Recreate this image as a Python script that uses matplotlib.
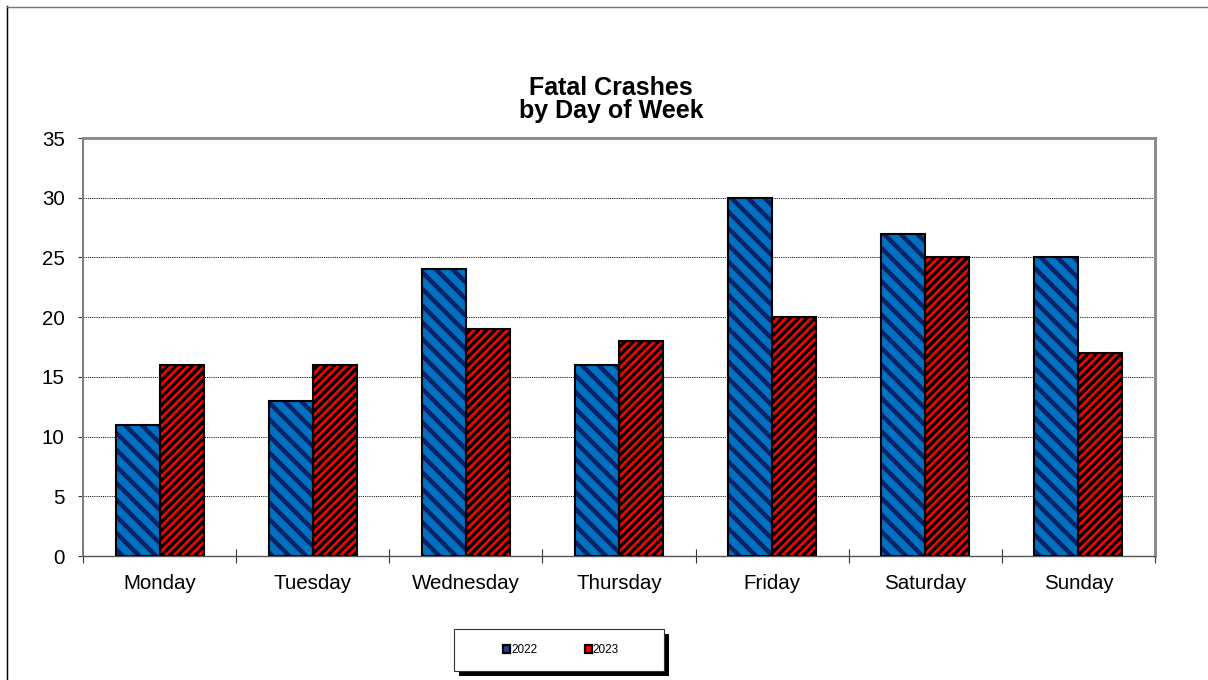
import numpy as np
import matplotlib
matplotlib.use("Agg")
from matplotlib import pyplot as plt
from matplotlib.patches import Rectangle
from matplotlib.lines import Line2D

days = ["Monday", "Tuesday", "Wednesday", "Thursday", "Friday", "Saturday", "Sunday"]
crashes_2022 = [11, 13, 24, 16, 30, 27, 25]
crashes_2023 = [16, 16, 19, 18, 20, 25, 17]
years = ["2022", "2023"]
y_ticks = [0, 5, 10, 15, 20, 25, 30, 35]

plt.rcParams['font.family'] = ['Liberation Sans', 'DejaVu Sans']

W, H = 1208, 680
DPI = 100
fig = plt.figure(figsize=(W / DPI, H / DPI), dpi=DPI)
fig.patch.set_facecolor('white')

# plot area in pixels
x0, x1, ytop, ybot = 83, 1155, 138, 556
ax = fig.add_axes([x0 / W, 1 - ybot / H, (x1 - x0) / W, (ybot - ytop) / H])

x = np.arange(len(days))
w = 0.2875
blue = '#0070C0'
navy = '#0B2366'
red = '#FF0000'

plt.rcParams['hatch.linewidth'] = 3.2
b1 = ax.bar(x - w / 2, crashes_2022, w, color=blue, edgecolor=navy, linewidth=0,
            hatch='\\\\', zorder=3)
plt.rcParams['hatch.linewidth'] = 2.4
b2 = ax.bar(x + w / 2, crashes_2023, w, color=red, edgecolor='black', linewidth=0,
            hatch='////', zorder=3)
for bars, lw in ((b1, 3.2), (b2, 2.4)):
    for p in bars:
        if hasattr(p, 'set_hatch_linewidth'):
            p.set_hatch_linewidth(lw)
# outlines
ax.bar(x - w / 2, crashes_2022, w, fill=False, edgecolor='black', linewidth=1.5, zorder=4)
ax.bar(x + w / 2, crashes_2023, w, fill=False, edgecolor='black', linewidth=1.5, zorder=4)

ax.set_xlim(-0.5, len(days) - 0.5)
ax.set_ylim(0, 35)
ax.set_yticks(y_ticks)
ax.set_yticklabels([str(t) for t in y_ticks], fontsize=14.8)
ax.set_xticks(x)
ax.set_xticklabels(days, fontsize=14.8)
ax.set_xticks(np.arange(-0.5, len(days), 1), minor=True)
ax.tick_params(axis='x', which='major', length=0, pad=12.8)
ax.tick_params(axis='x', which='minor', direction='inout', length=9.6, width=0.8, color='#333333')
ax.tick_params(axis='y', direction='out', length=3.6, width=0.8, color='#333333', pad=9.6)

for t in y_ticks[1:-1]:
    ax.axhline(t, color='black', linestyle=(0, (1.2, 1.2)), linewidth=0.65, zorder=1)

ax.spines['left'].set_color('#7F7F7F')
ax.spines['left'].set_linewidth(1.45)
ax.spines['top'].set_color('#8A8A8A')
ax.spines['top'].set_linewidth(2.1)
ax.spines['right'].set_color('#8A8A8A')
ax.spines['right'].set_linewidth(2.1)
ax.spines['bottom'].set_color('#555555')
ax.spines['bottom'].set_linewidth(1.0)

# titles
fig.text(611 / W, 1 - 88 / H, "Fatal Crashes", ha='center', va='center',
         fontsize=18, fontweight='bold')
fig.text(611 / W, 1 - 111 / H, "by Day of Week", ha='center', va='center',
         fontsize=18, fontweight='bold')

# figure border (left and top)
fig.add_artist(Line2D([7 / W, 7 / W], [0, 1 - 6 / H], transform=fig.transFigure,
                      color='black', linewidth=1.05))
fig.add_artist(Line2D([7 / W, 1], [1 - 6.5 / H, 1 - 6.5 / H], transform=fig.transFigure,
                      color='#777777', linewidth=1.05))

# legend box with shadow
lx0, lx1, ly0, ly1 = 454, 664, 629, 671
fig.add_artist(Rectangle((lx0 / W + 5 / W, 1 - (ly1 + 5) / H), (lx1 - lx0) / W, (ly1 - ly0) / H,
                         transform=fig.transFigure, facecolor='black', edgecolor='black',
                         linewidth=0, zorder=5))
fig.add_artist(Rectangle((lx0 / W, 1 - ly1 / H), (lx1 - lx0) / W, (ly1 - ly0) / H,
                         transform=fig.transFigure, facecolor='white', edgecolor='#333333',
                         linewidth=0.8, zorder=6))
handles = [Rectangle((0, 0), 1, 1, facecolor='#1F3F8F', edgecolor='black', linewidth=1.6),
           Rectangle((0, 0), 1, 1, facecolor=red, edgecolor='black', linewidth=1.6)]
leg = fig.legend(handles, years, loc='center', bbox_to_anchor=(561 / W, 1 - 650 / H),
                 ncol=2, frameon=False, fontsize=8.5, handlelength=0.6, handleheight=0.6,
                 handletextpad=0.1, columnspacing=4.0, borderpad=0)
leg.set_zorder(7)

fig.savefig("out.png", dpi=DPI)
